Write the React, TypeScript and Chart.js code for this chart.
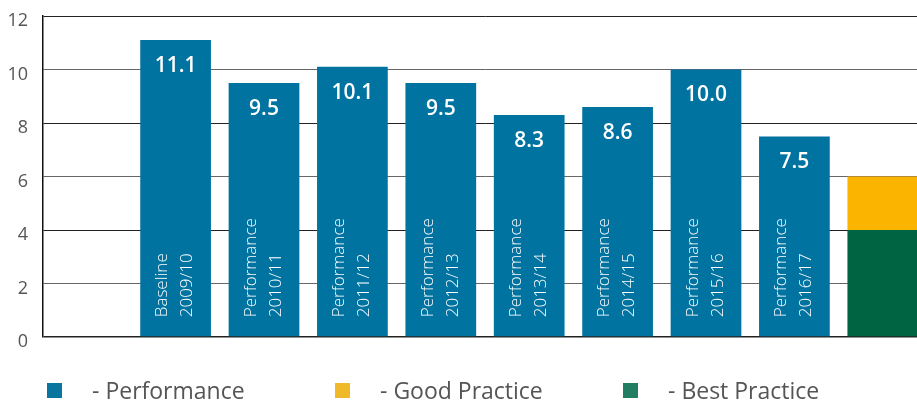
import React, { useEffect, useRef } from "react";
import { Chart, registerables } from "chart.js";

Chart.register(...registerables);

const categories = ["", "2009/10", "2010/11", "2011/12", "2012/13", "2013/14", "2014/15", "2015/16", "2016/17", "Target"];
const barLabelTop = ["", "Baseline", "Performance", "Performance", "Performance", "Performance", "Performance", "Performance", "Performance", ""];
const performance = [null, 11.1, 9.5, 10.1, 9.5, 8.3, 8.6, 10.0, 7.5, null];
const bestPractice = [null, null, null, null, null, null, null, null, null, 4];
const goodPractice = [null, null, null, null, null, null, null, null, null, 2];
const yTicks = [0, 2, 4, 6, 8, 10, 12];

const legendLabels = ["- Performance", "- Good Practice", "- Best Practice"];
const legendColors = ["#0a76a0", "#f0b92a", "#217e62"];
const legendX = [47, 335, 623];

const FONT = "'Open Sans', 'Noto Sans', sans-serif";

const labelPlugin = {
  id: "barLabels",
  afterDatasetsDraw(chart: any) {
    const ctx = chart.ctx;
    const meta = chart.getDatasetMeta(0);
    ctx.save();
    ctx.fillStyle = "#ffffff";
    meta.data.forEach((bar: any, i: number) => {
      const v = performance[i];
      if (v === null || v === undefined) return;
      const { x, y, base } = bar.getProps(["x", "y", "base"], true);
      ctx.font = `600 21px ${FONT}`;
      ctx.textAlign = "center";
      ctx.textBaseline = "middle";
      ctx.fillText(v.toFixed(1), x, y + 26);
      ctx.save();
      ctx.translate(x, base - 19);
      ctx.rotate(-Math.PI / 2);
      ctx.font = `300 17px ${FONT}`;
      ctx.textAlign = "left";
      ctx.textBaseline = "middle";
      ctx.fillText(barLabelTop[i], 0, -13);
      ctx.fillText(categories[i], 0, 12);
      ctx.restore();
    });
    ctx.restore();
  },
  afterDraw(chart: any) {
    const ctx = chart.ctx;
    ctx.save();
    legendLabels.forEach((lab, i) => {
      ctx.fillStyle = legendColors[i];
      ctx.fillRect(legendX[i], 383, 15, 15);
      ctx.fillStyle = "#555555";
      ctx.font = `400 23px ${FONT}`;
      ctx.textAlign = "left";
      ctx.textBaseline = "alphabetic";
      ctx.fillText(lab, legendX[i] + 45, 399);
    });
    ctx.restore();
  },
};

export default function App() {
  const ref = useRef<HTMLCanvasElement>(null);
  useEffect(() => {
    document.body.style.margin = "0";
    document.body.style.overflow = "hidden";
    const chart = new Chart(ref.current!, {
      type: "bar",
      data: {
        labels: categories,
        datasets: [
          { label: "Performance", data: performance, backgroundColor: "#0073a0", stack: "s" },
          { label: "Best Practice", data: bestPractice, backgroundColor: "#006341", stack: "s" },
          { label: "Good Practice", data: goodPractice, backgroundColor: "#fbb400", stack: "s" },
        ],
      },
      options: {
        responsive: false,
        animation: false,
        layout: { padding: { top: 16, bottom: 64, left: 0, right: 0 } },
        datasets: { bar: { categoryPercentage: 1, barPercentage: 0.8 } },
        plugins: { legend: { display: false }, tooltip: { enabled: false } },
        scales: {
          x: { stacked: true, display: false },
          y: {
            stacked: true,
            min: 0,
            max: 12,
            afterBuildTicks: (scale: any) => {
              scale.ticks = yTicks.map((v) => ({ value: v }));
            },
            afterFit: (scale: any) => {
              scale.width = 43;
              scale.paddingTop = 0;
              scale.paddingBottom = 0;
            },
            border: { display: true, color: "#111", width: 1.5 },
            grid: {
              drawTicks: false,
              color: (c: any) => (c.tick && c.tick.value % 4 === 0 ? "#222" : "#666"),
              lineWidth: (c: any) => (c.tick && c.tick.value === 0 ? 1.5 : 1),
            },
            ticks: {
              padding: 15,
              labelOffset: 5,
              color: "#555",
              font: { family: FONT, size: 18 },
            },
          },
        },
      },
      plugins: [labelPlugin],
    });
    return () => chart.destroy();
  }, []);
  return (
    <div style={{ position: "fixed", left: 0, top: 0, width: 927, height: 401 }}>
      <canvas ref={ref} width={927} height={401} />
    </div>
  );
}
